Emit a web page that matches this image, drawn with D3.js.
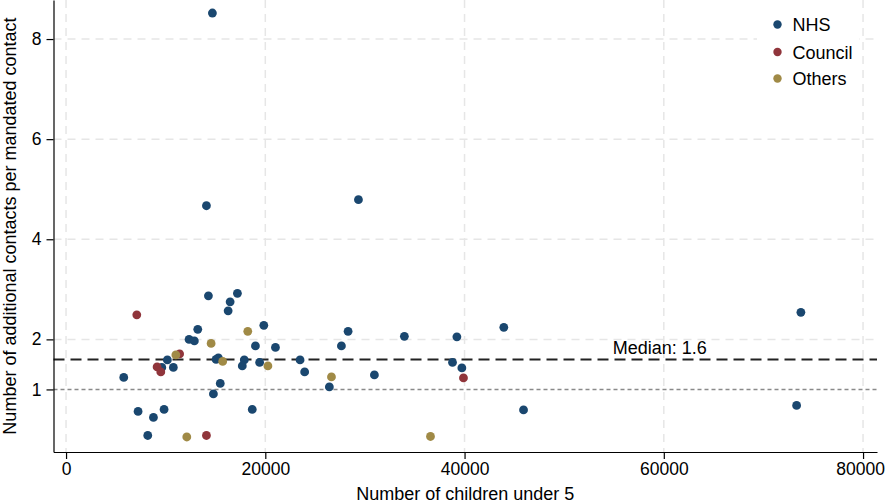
<!DOCTYPE html>
<html>
<head>
<meta charset="utf-8">
<script src="https://cdn.jsdelivr.net/npm/d3@7"></script>
<style>
  body { margin: 0; background: #fff; }
  text { font-family: "Liberation Sans", Arial, sans-serif; fill: #000; }
</style>
</head>
<body>
<script>
// Datos: [niños menores de 5, contactos adicionales]
const nhs = [
  [14290, 2.87], [17200, 2.92], [16470, 2.75], [16270, 2.57], [13220, 2.20],
  [12350, 2.00], [12880, 1.97], [19850, 2.28], [19010, 1.87], [21020, 1.84],
  [10170, 1.59], [15290, 1.63], [15060, 1.60], [17890, 1.59], [17690, 1.47],
  [19430, 1.54], [23490, 1.59], [9610, 1.44], [10770, 1.44], [5790, 1.24],
  [15480, 1.12], [14790, 0.91], [7230, 0.56], [8770, 0.44], [9840, 0.60],
  [18690, 0.60], [8200, 0.08], [23950, 1.35], [26430, 1.05], [27640, 1.87],
  [28310, 2.16], [30950, 1.29], [33960, 2.06], [39230, 2.05], [38790, 1.54],
  [39730, 1.43], [43940, 2.24], [45920, 0.59], [73760, 2.54], [73330, 0.68],
  [14090, 4.67], [29350, 4.79], [14690, 8.52]
];
const council = [
  [7100, 2.49], [11400, 1.71], [9140, 1.45], [9510, 1.35], [14090, 0.08],
  [39890, 1.23]
];
const others = [
  [18240, 2.16], [14560, 1.92], [11020, 1.69], [15720, 1.56], [20260, 1.47],
  [26640, 1.25], [12120, 0.05], [36580, 0.06]
];
const seriesNames = ["NHS", "Council", "Others"];
const seriesColors = ["#1a476f", "#90353b", "#a08a46"];
const xTicks = [0, 20000, 40000, 60000, 80000];
const yTicks = [1, 2, 4, 6, 8];
const yGrid = [2, 4, 6, 8];
const medianValue = 1.6;
const refValue = 1;

const width = 885, height = 503;
const plot = { left: 53.5, right: 877, top: 0, bottom: 452 };

const svg = d3.select("body").append("svg")
  .attr("width", width)
  .attr("height", height);

const x = d3.scaleLinear().domain([-1260, 81400]).range([plot.left, plot.right]);
const y = d3.scaleLinear().domain([-0.25, 8.78]).range([plot.bottom, plot.top]);

// rejilla
svg.append("g").selectAll("line").data(xTicks).enter().append("line")
  .attr("x1", d => x(d)).attr("x2", d => x(d))
  .attr("y1", plot.top).attr("y2", plot.bottom)
  .attr("stroke", "#e6e6e6").attr("stroke-width", 1.5)
  .attr("stroke-dasharray", "8,6");
svg.append("g").selectAll("line").data(yGrid).enter().append("line")
  .attr("x1", plot.left).attr("x2", plot.right)
  .attr("y1", d => y(d)).attr("y2", d => y(d))
  .attr("stroke", "#e6e6e6").attr("stroke-width", 1.5)
  .attr("stroke-dasharray", "8,6");

// lineas de referencia
svg.append("line")
  .attr("x1", plot.left).attr("x2", plot.right)
  .attr("y1", y(refValue)).attr("y2", y(refValue))
  .attr("stroke", "#8a8a8a").attr("stroke-width", 1.6)
  .attr("stroke-dasharray", "4,3");
svg.append("line")
  .attr("x1", plot.left).attr("x2", plot.right)
  .attr("y1", y(medianValue)).attr("y2", y(medianValue))
  .attr("stroke", "#222").attr("stroke-width", 2)
  .attr("stroke-dasharray", "11,6");
svg.append("text")
  .attr("x", x(54870)).attr("y", y(medianValue) - 5)
  .style("font-size", "18px")
  .text("Median: " + medianValue);

// puntos
[nhs, council, others].forEach((datos, i) => {
  svg.append("g").selectAll("circle").data(datos).enter().append("circle")
    .attr("cx", d => x(d[0]))
    .attr("cy", d => y(d[1]))
    .attr("r", 4.4)
    .attr("fill", seriesColors[i]);
});

// ejes
const ejeX = d3.axisBottom(x).tickValues(xTicks).tickSize(7).tickSizeOuter(0)
  .tickPadding(4).tickFormat(d3.format("d"));
const gx = svg.append("g")
  .attr("transform", "translate(0," + plot.bottom + ")")
  .call(ejeX);
const ejeY = d3.axisLeft(y).tickValues(yTicks).tickSize(7).tickSizeOuter(0)
  .tickPadding(5).tickFormat(d3.format("d"));
const gy = svg.append("g")
  .attr("transform", "translate(" + plot.left + ",0)")
  .call(ejeY);
[gx, gy].forEach(g => {
  g.selectAll("text").style("font-size", "17.5px").attr("fill", "#000")
    .style("font-family", "'Liberation Sans', Arial, sans-serif");
  g.selectAll("line, path").attr("stroke", "#000").attr("stroke-width", 1.2);
});
// la ultima etiqueta toca el borde derecho
gx.selectAll(".tick text").filter(d => d === 80000).attr("dx", "-3");

// titulos
svg.append("text")
  .attr("x", (plot.left + plot.right) / 2).attr("y", 500)
  .attr("text-anchor", "middle")
  .style("font-size", "18px")
  .text("Number of children under 5");
svg.append("text")
  .attr("transform", "translate(16," + (plot.bottom / 2) + ") rotate(-90)")
  .attr("text-anchor", "middle")
  .style("font-size", "18px")
  .text("Number of additional contacts per mandated contact");

// leyenda
const leyenda = svg.append("g");
leyenda.append("rect")
  .attr("x", 757).attr("y", 4).attr("width", 102).attr("height", 92)
  .attr("fill", "#fff");
seriesNames.forEach((nombre, i) => {
  const fy = [24.5, 52, 78.5][i];
  leyenda.append("circle").attr("cx", 777.5).attr("cy", fy).attr("r", 4.2)
    .attr("fill", seriesColors[i]);
  leyenda.append("text").attr("x", 792.5).attr("y", fy + 6.5)
    .style("font-size", "18px").text(nombre);
});
</script>
</body>
</html>
